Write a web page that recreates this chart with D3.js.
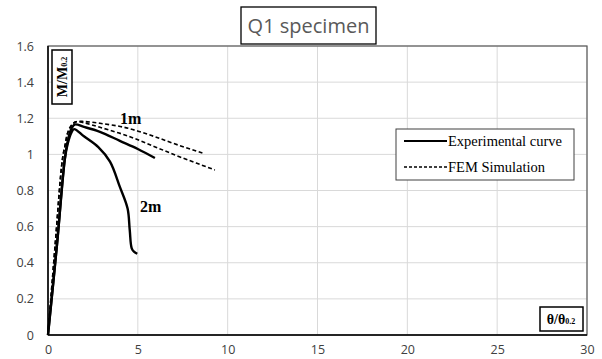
<!DOCTYPE html>
<html><head><meta charset="utf-8">
<script src="https://cdn.jsdelivr.net/npm/d3@7"></script>
<style>body{margin:0;background:#fff}svg{display:block}</style>
</head><body>
<svg id="c" width="602" height="359"></svg>
<script>
const xTicks = [0, 5, 10, 15, 20, 25, 30];
const yTicks = [0, 0.2, 0.4, 0.6, 0.8, 1, 1.2, 1.4, 1.6];

const exp1mX = [0, 0.5, 0.93, 1.07, 1.25, 1.48, 2.0, 2.89, 4.0, 5.0, 5.95];
const exp1mY = [0, 0.5, 0.97, 1.06, 1.13, 1.165, 1.152, 1.125, 1.075, 1.03, 0.98];
const exp2mX = [0, 0.5, 0.93, 1.1, 1.3, 1.45, 2.0, 2.8, 3.45, 4.0, 4.43, 4.55, 4.66, 4.8, 4.97];
const exp2mY = [0, 0.5, 0.97, 1.06, 1.12, 1.14, 1.1, 1.04, 0.96, 0.82, 0.70, 0.58, 0.48, 0.46, 0.45];
const fem1mX = [0, 0.4, 0.8, 0.95, 1.1, 1.3, 1.55, 2.0, 2.89, 4.23, 5.68, 7.0, 8.64];
const fem1mY = [0, 0.5, 0.97, 1.05, 1.12, 1.16, 1.18, 1.182, 1.172, 1.15, 1.107, 1.06, 1.006];
const fem2mX = [0, 0.4, 0.8, 0.95, 1.1, 1.3, 1.55, 2.0, 2.89, 4.5, 6.0, 7.5, 9.29];
const fem2mY = [0, 0.5, 0.97, 1.05, 1.12, 1.16, 1.18, 1.175, 1.15, 1.10, 1.04, 0.98, 0.914];

const svg = d3.select("#c");
const L = 48, R = 587, T = 46, B = 335;
const x = d3.scaleLinear().domain([0, 30]).range([L, R]);
const y = d3.scaleLinear().domain([0, 1.6]).range([B, T]);

// grid
svg.append("g").selectAll("line.h").data(yTicks).join("line")
  .attr("x1", L).attr("x2", R).attr("y1", d => y(d)).attr("y2", d => y(d))
  .attr("stroke", "#d9d9d9").attr("stroke-width", 1);
svg.append("g").selectAll("line.v").data(xTicks).join("line")
  .attr("y1", T).attr("y2", B).attr("x1", d => x(d)).attr("x2", d => x(d))
  .attr("stroke", "#d9d9d9").attr("stroke-width", 1);
// border
svg.append("rect").attr("x", L).attr("y", T).attr("width", R - L).attr("height", B - T)
  .attr("fill", "none").attr("stroke", "#595959").attr("stroke-width", 1.2);
svg.append("line").attr("x1", L).attr("x2", L).attr("y1", T).attr("y2", B).attr("stroke", "#000").attr("stroke-width", 1.5);
svg.append("line").attr("x1", L).attr("x2", R).attr("y1", B).attr("y2", B).attr("stroke", "#000").attr("stroke-width", 1.5);

// axes tick labels
const xa = svg.append("g").attr("transform", `translate(0,${B})`)
  .call(d3.axisBottom(x).tickValues(xTicks).tickSize(0).tickPadding(10).tickFormat(d3.format("d")));
const ya = svg.append("g").attr("transform", `translate(${L},0)`)
  .call(d3.axisLeft(y).tickValues(yTicks).tickSize(0).tickPadding(14).tickFormat(d => d === 0 || d === 1 ? String(d) : d3.format(".1f")(d)));
[xa, ya].forEach(a => {
  a.select(".domain").remove();
  a.selectAll("text").attr("fill", "#404040").style("font-family", "Open Sans, sans-serif").style("font-size", "12.5px");
});

// lines
const mk = (xs, ys) => xs.map((v, i) => [v, ys[i]]);
const lineC = d3.line().x(d => x(d[0])).y(d => y(d[1])).curve(d3.curveCatmullRom.alpha(0.5));
[[fem1mX, fem1mY], [fem2mX, fem2mY]].forEach(([a, b]) => {
  svg.append("path").attr("d", lineC(mk(a, b))).attr("fill", "none")
    .attr("stroke", "#000").attr("stroke-width", 1.6).attr("stroke-dasharray", "4,2.5");
});
[[exp1mX, exp1mY], [exp2mX, exp2mY]].forEach(([a, b]) => {
  svg.append("path").attr("d", lineC(mk(a, b))).attr("fill", "none")
    .attr("stroke", "#000").attr("stroke-width", 2.4).attr("stroke-linejoin", "round");
});

// annotations
svg.append("text").attr("x", 120).attr("y", 124).text("1m")
  .style("font-family", "Liberation Serif, serif").style("font-weight", "bold").style("font-size", "16px");
svg.append("text").attr("x", 140).attr("y", 212).text("2m")
  .style("font-family", "Liberation Serif, serif").style("font-weight", "bold").style("font-size", "16px");

// title
svg.append("rect").attr("x", 241).attr("y", 7).attr("width", 135).attr("height", 37)
  .attr("fill", "#fff").attr("stroke", "#000").attr("stroke-width", 1.3);
svg.append("text").attr("x", 308.5).attr("y", 33).attr("text-anchor", "middle").text("Q1 specimen")
  .attr("fill", "#595959").style("font-family", "Open Sans, sans-serif").style("font-size", "20px");

// y label box
svg.append("rect").attr("x", 52).attr("y", 50).attr("width", 20).attr("height", 54)
  .attr("fill", "#fff").attr("stroke", "#000").attr("stroke-width", 1.5);
const yl = svg.append("text").attr("transform", "translate(67,77) rotate(-90)").attr("text-anchor", "middle")
  .style("font-family", "Liberation Serif, serif").style("font-weight", "bold").style("font-size", "14px");
yl.append("tspan").text("M/M");
yl.append("tspan").attr("font-size", "8px").text("0.2");

// x label box
svg.append("rect").attr("x", 540).attr("y", 307).attr("width", 43).attr("height", 24)
  .attr("fill", "#fff").attr("stroke", "#000").attr("stroke-width", 1.5);
const xl = svg.append("text").attr("x", 561).attr("y", 324).attr("text-anchor", "middle")
  .style("font-family", "Liberation Serif, serif").style("font-weight", "bold").style("font-size", "14px");
xl.append("tspan").text("θ/θ");
xl.append("tspan").attr("font-size", "8px").text("0.2");

// legend
svg.append("rect").attr("x", 396).attr("y", 129).attr("width", 178).attr("height", 51)
  .attr("fill", "#fff").attr("stroke", "#404040").attr("stroke-width", 1);
const leg = [["Experimental curve", null, 2, 141], ["FEM Simulation", "3,2", 1.4, 167]];
leg.forEach(([t, dash, w, yy]) => {
  svg.append("line").attr("x1", 404).attr("x2", 447).attr("y1", yy).attr("y2", yy)
    .attr("stroke", "#000").attr("stroke-width", w).attr("stroke-dasharray", dash);
  svg.append("text").attr("x", 448).attr("y", yy + 4.5).text(t)
    .style("font-family", "Liberation Serif, serif").style("font-size", "14.5px");
});
</script>
</body></html>
